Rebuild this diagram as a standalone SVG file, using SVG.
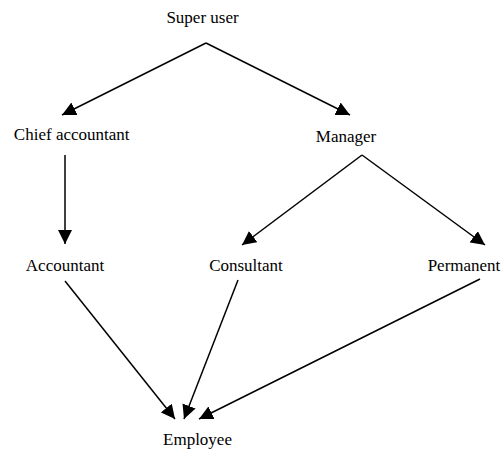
<svg xmlns="http://www.w3.org/2000/svg" width="502" height="449" viewBox="0 0 502 449">
  <style>
    text { font-family: 'Liberation Serif', 'Times New Roman', Times, 'DejaVu Serif', serif; font-size: 17px; fill: #000; text-anchor: middle; }
    .edge { stroke: #000; stroke-width: 1.5; fill: none; marker-end: url(#arrow); }
  </style>
  <defs>
    <marker id="arrow" markerUnits="userSpaceOnUse" markerWidth="14" markerHeight="14" refX="14" refY="7" orient="auto">
      <path d="M0,0 L14,7 L0,14 z" fill="#000"/>
    </marker>
  </defs>
  <rect width="502" height="449" fill="#fff"/>

  <g id="connectors">
    <path class="edge" d="M206,43 L62,115"/>
    <path class="edge" d="M206,43 L350,115"/>
    <path class="edge" d="M65,155 L65,244"/>
    <path class="edge" d="M362,155 L242,245"/>
    <path class="edge" d="M362,155 L485,245"/>
    <path class="edge" d="M65,281 L175,419"/>
    <path class="edge" d="M238,280 L184,419"/>
    <path class="edge" d="M480,279 L199,419"/>
  </g>

  <g id="super-user"><text x="202.5" y="23">Super user</text></g>
  <g id="chief-accountant"><text x="71.7" y="140">Chief accountant</text></g>
  <g id="manager"><text x="346" y="142">Manager</text></g>
  <g id="accountant"><text x="65" y="271">Accountant</text></g>
  <g id="consultant"><text x="246" y="271">Consultant</text></g>
  <g id="permanent"><text x="464" y="271">Permanent</text></g>
  <g id="employee"><text x="197.5" y="445">Employee</text></g>
</svg>
